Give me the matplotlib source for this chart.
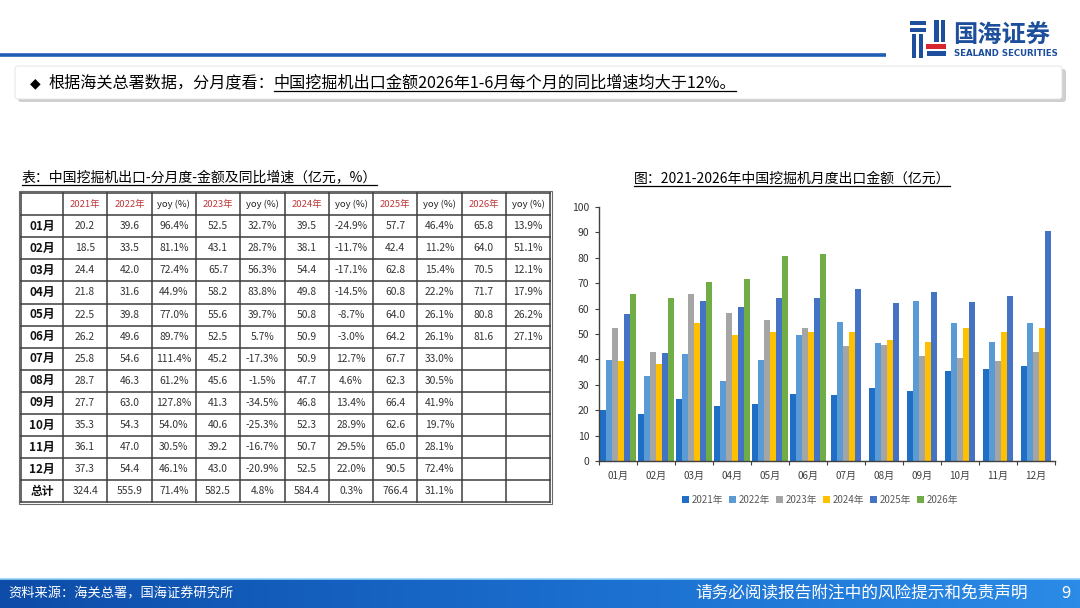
import numpy as np
import matplotlib
matplotlib.use('Agg')
import matplotlib.pyplot as plt
from matplotlib.patches import Rectangle, FancyBboxPatch
from matplotlib.colors import LinearSegmentedColormap

plt.rcParams['font.family'] = ['Noto Sans CJK SC', 'DejaVu Sans']

# ---- data (亿元) ----
months = ['01月', '02月', '03月', '04月', '05月', '06月',
          '07月', '08月', '09月', '10月', '11月', '12月']
years = ['2021年', '2022年', '2023年', '2024年', '2025年', '2026年']

v2021 = [20.2, 18.5, 24.4, 21.8, 22.5, 26.2, 25.8, 28.7, 27.7, 35.3, 36.1, 37.3]
v2022 = [39.6, 33.5, 42.0, 31.6, 39.8, 49.6, 54.6, 46.3, 63.0, 54.3, 47.0, 54.4]
v2023 = [52.5, 43.1, 65.7, 58.2, 55.6, 52.5, 45.2, 45.6, 41.3, 40.6, 39.2, 43.0]
v2024 = [39.5, 38.1, 54.4, 49.8, 50.8, 50.9, 50.9, 47.7, 46.8, 52.3, 50.7, 52.5]
v2025 = [57.7, 42.4, 62.8, 60.8, 64.0, 64.2, 67.7, 62.3, 66.4, 62.6, 65.0, 90.5]
v2026 = [65.8, 64.0, 70.5, 71.7, 80.8, 81.6]

yoy2022 = [96.4, 81.1, 72.4, 44.9, 77.0, 89.7, 111.4, 61.2, 127.8, 54.0, 30.5, 46.1]
yoy2023 = [32.7, 28.7, 56.3, 83.8, 39.7, 5.7, -17.3, -1.5, -34.5, -25.3, -16.7, -20.9]
yoy2024 = [-24.9, -11.7, -17.1, -14.5, -8.7, -3.0, 12.7, 4.6, 13.4, 28.9, 29.5, 22.0]
yoy2025 = [46.4, 11.2, 15.4, 22.2, 26.1, 26.1, 33.0, 30.5, 41.9, 19.7, 28.1, 72.4]
yoy2026 = [13.9, 51.1, 12.1, 17.9, 26.2, 27.1]

totals = [324.4, 555.9, 582.5, 584.4, 766.4]
total_yoy = [71.4, 4.8, 0.3, 31.1]

header_cols = ['', '2021年', '2022年', 'yoy (%)', '2023年', 'yoy (%)', '2024年',
               'yoy (%)', '2025年', 'yoy (%)', '2026年', 'yoy (%)']

colors = ['#1f6fc6', '#5b9bd5', '#a5a5a5', '#ffc000', '#4472c4', '#70ad47']

W, H = 1080, 608
fig = plt.figure(figsize=(10.8, 6.08), dpi=100)
bg = fig.add_axes([0, 0, 1, 1])
bg.set_xlim(0, W)
bg.set_ylim(H, 0)
bg.axis('off')
renderer = fig.canvas.get_renderer()


def text_right(t):
    bb = t.get_window_extent(renderer)
    return bb.x0, bb.x1, H - bb.y0


# ---- header ----
bg.plot([0, 886], [55, 55], color='#1f5db4', lw=2.6, solid_capstyle='butt')
bg.add_patch(FancyBboxPatch((18, 69), 1048, 33, boxstyle='round,pad=0,rounding_size=3',
                            fc='#cfcfcf', ec='none'))
bg.add_patch(FancyBboxPatch((15, 66), 1047, 33, boxstyle='round,pad=0,rounding_size=3',
                            fc='white', ec='#e2e2e2', lw=0.6))
bg.text(30, 83, '◆', fontsize=10, va='center', ha='left', color='black',
        family=['DejaVu Sans'])
t1 = bg.text(48, 83, '根据海关总署数据，分月度看：', fontsize=11.6, va='center', ha='left')
x0, x1, _ = text_right(t1)
t2 = bg.text(x1, 83, '中国挖掘机出口金额2026年1-6月每个月的同比增速均大于12%。',
             fontsize=11.6, va='center', ha='left')
a, b, yb = text_right(t2)
bg.plot([a, b], [yb - 1, yb - 1], color='black', lw=0.9)

# logo
logo_blue = '#1d4f9c'
for r in [(910, 21, 16, 4), (910, 28, 16, 3.5), (912, 34, 4, 24), (919, 34, 4, 24),
          (934, 20, 5, 22), (941, 20, 4, 22), (927, 51, 19, 5)]:
    bg.add_patch(Rectangle(r[:2], r[2], r[3], fc=logo_blue, ec='none'))
bg.add_patch(Rectangle((926, 44), 20, 4.5, fc='#d7262e', ec='none'))
bg.text(953, 36, '国海证券', fontsize=17.5, fontweight='bold', color=logo_blue,
        va='center', ha='left')
bg.text(954, 53, 'SEALAND SECURITIES', fontsize=6.2, fontweight='bold', color=logo_blue,
        va='center', ha='left', family=['DejaVu Sans'])

# ---- table ----
tt = bg.text(22, 178, '表：中国挖掘机出口-分月度-金额及同比增速（亿元，%）',
             fontsize=10, va='center', ha='left')
a, b, yb = text_right(tt)
bg.plot([a, b], [yb, yb], color='black', lw=0.9)

tab_left, first_w, col_w = 21, 42, 44.3
tab_top, row_h = 193, 22.1
ncols = len(header_cols)
col_edges = [tab_left, tab_left + first_w] + \
    [tab_left + first_w + col_w * (k + 1) for k in range(ncols - 1)]
centers = [(col_edges[k] + col_edges[k + 1]) / 2 for k in range(ncols)]


def fmt(v):
    return f'{v:.1f}'


def pct(v):
    return f'{v:.1f}%'


rows = []
for i in range(12):
    r = [months[i], fmt(v2021[i]), fmt(v2022[i]), pct(yoy2022[i]),
         fmt(v2023[i]), pct(yoy2023[i]), fmt(v2024[i]), pct(yoy2024[i]),
         fmt(v2025[i]), pct(yoy2025[i])]
    if i < len(v2026):
        r += [fmt(v2026[i]), pct(yoy2026[i])]
    else:
        r += ['', '']
    rows.append(r)
rows.append(['总计', fmt(totals[0]), fmt(totals[1]), pct(total_yoy[0]),
             fmt(totals[2]), pct(total_yoy[1]), fmt(totals[3]), pct(total_yoy[2]),
             fmt(totals[4]), pct(total_yoy[3]), '', ''])

nrows = len(rows) + 1
for k, lab in enumerate(header_cols):
    yc = tab_top + row_h / 2
    col = '#c0393b' if '年' in lab else '#222222'
    bg.text(centers[k], yc, lab, fontsize=6.8, va='center', ha='center', color=col)
for i, r in enumerate(rows):
    yc = tab_top + row_h * (i + 1.5)
    for k, s in enumerate(r):
        if k == 0:
            bg.text(centers[k], yc, s, fontsize=8.5, va='center', ha='center',
                    color='#111111', fontweight='bold')
        else:
            bg.text(centers[k], yc, s, fontsize=7.4, va='center', ha='center',
                    color='#333333')
tab_bottom = tab_top + row_h * nrows
for i in range(nrows + 1):
    y = tab_top + row_h * i
    bg.plot([tab_left, col_edges[-1]], [y, y], color='#3d3d3d', lw=1.1)
for x in col_edges:
    bg.plot([x, x], [tab_top, tab_bottom], color='#3d3d3d', lw=1.1)
bg.add_patch(Rectangle((tab_left - 2, tab_top - 2), col_edges[-1] - tab_left + 4,
                       tab_bottom - tab_top + 4, fc='none', ec='#6a6a6a', lw=0.8))

# ---- chart ----
ct = bg.text(792, 179, '图：2021-2026年中国挖掘机月度出口金额（亿元）',
             fontsize=10, va='center', ha='center')
a, b, yb = text_right(ct)
bg.plot([a, b], [yb, yb], color='black', lw=0.9)

ax = fig.add_axes([599 / W, (H - 461) / H, (1055 - 599) / W, (461 - 207) / H])
series = [v2021, v2022, v2023, v2024, v2025, v2026]
bw = 0.158
for j, vals in enumerate(series):
    xs = []
    for i in range(len(vals)):
        n = sum(1 for s in series if len(s) > i)
        xs.append(i + (j - (n - 1) / 2) * bw)
    ax.bar(xs, vals, width=bw, color=colors[j], label=years[j], lw=0)

ax.set_xlim(-0.5, 11.5)
ax.set_ylim(0, 100)
ax.set_yticks(np.arange(0, 101, 10))
ax.set_xticks(np.arange(12))
ax.set_xticklabels(months)
ax.set_xticks(np.arange(-0.5, 12, 1), minor=True)
ax.tick_params(axis='x', which='major', length=0, pad=7, labelsize=7.2, labelcolor='#404040')
ax.tick_params(axis='x', which='minor', length=3, color='#404040', width=0.8)
ax.tick_params(axis='y', length=3, color='#404040', width=0.8, pad=4,
               labelsize=7.5, labelcolor='#333333')
for sp in ['top', 'right']:
    ax.spines[sp].set_visible(False)
for sp in ['left', 'bottom']:
    ax.spines[sp].set_color('#404040')
    ax.spines[sp].set_linewidth(1.0)
ax.patch.set_alpha(0)

ax.legend(loc='center', bbox_to_anchor=(820 / W, 1 - 500 / H), bbox_transform=fig.transFigure,
          ncol=6, frameon=False, fontsize=7, handlelength=0.7, handleheight=0.7,
          handletextpad=0.3, columnspacing=0.6, labelcolor='#595959')

# ---- footer ----
grad = np.linspace(0, 1, 256).reshape(1, -1)
cmap = LinearSegmentedColormap.from_list('ft', ['#0d4ca8', '#1a6ccc', '#2b8be6'])
bg.imshow(grad, extent=[0, W, H, 579], aspect='auto', cmap=cmap, zorder=1)
bg.plot([0, W], [579, 579], color='#8fd3f7', lw=1.2, zorder=2)
bg.set_xlim(0, W)
bg.set_ylim(H, 0)
bg.text(8, 594, '资料来源：海关总署，国海证券研究所', fontsize=9.5, color='white',
        va='center', ha='left', zorder=3)
bg.text(1028, 594, '请务必阅读报告附注中的风险提示和免责声明', fontsize=12, color='white',
        va='center', ha='right', zorder=3)
bg.text(1066, 594, '9', fontsize=12, color='white', va='center', ha='center', zorder=3)

fig.savefig('out.png', dpi=100)
